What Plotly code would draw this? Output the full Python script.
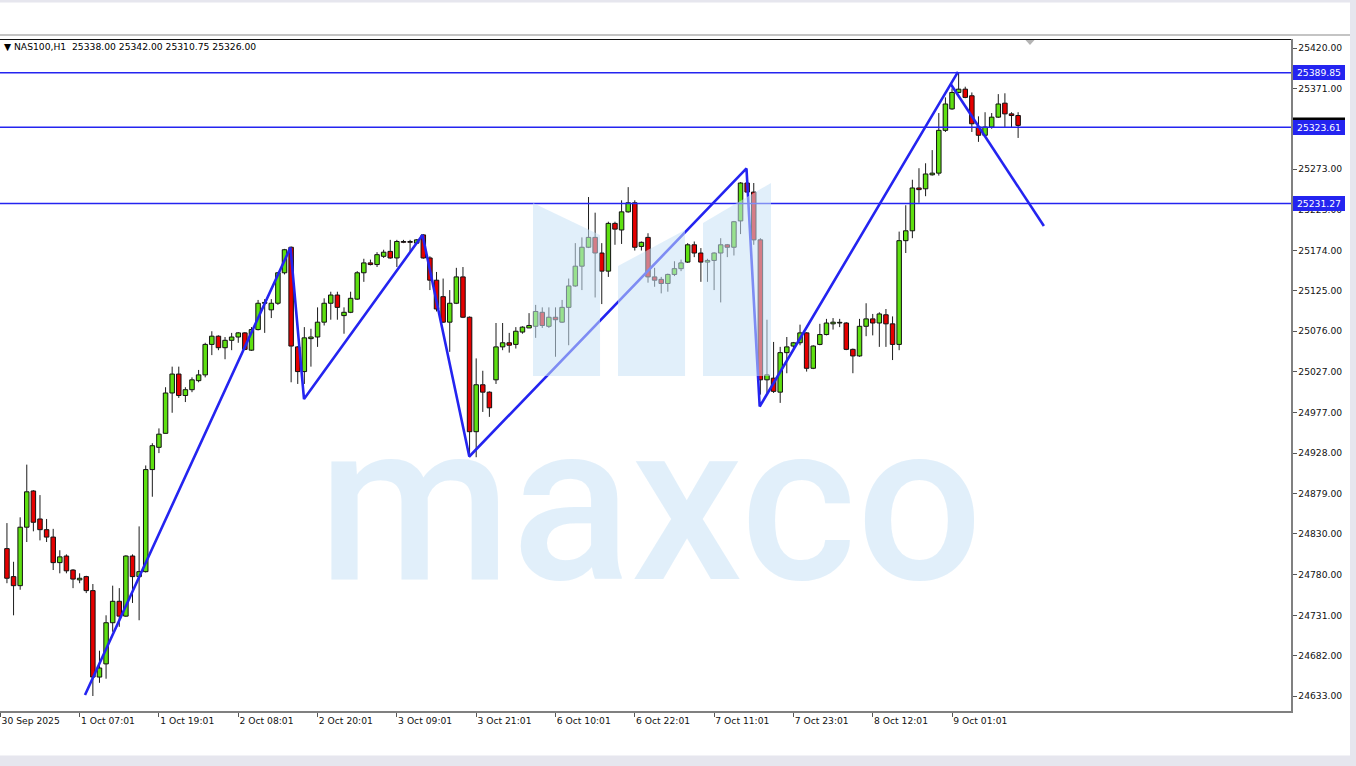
import plotly.graph_objects as go

# ---------------- data ----------------
bar_index = list(range(1, 155))

opens = [24812, 24778, 24767, 24838, 24882, 24848, 24835, 24826, 24795, 24803,
         24786, 24774, 24778, 24761, 24656, 24672, 24722, 24748, 24730, 24803,
         24778, 24784, 24908, 24935, 24952, 25001, 25024, 24998, 25005, 25016,
         25023, 25060, 25070, 25056, 25065, 25069, 25074, 25053, 25078, 25110,
         25102, 25110, 25147, 25178, 25057, 25027, 25067, 25069, 25087, 25110,
         25120, 25095, 25099, 25115, 25147, 25159, 25157, 25167, 25173, 25165,
         25185, 25185, 25183, 25193, 25165, 25138, 25118, 25087, 25110, 25142,
         25093, 24954, 25011, 25002, 25017, 25057, 25062, 25060, 25075, 25080,
         25082, 25099, 25082, 25093, 25087, 25105, 25131, 25155, 25178, 25190,
         25171, 25149, 25207, 25199, 25221, 25232, 25179, 25190, 25142, 25139,
         25134, 25145, 25152, 25160, 25181, 25171, 25160, 25162, 25171, 25181,
         25178, 25210, 25256, 25245, 25187, 25017, 25019, 25002, 25050, 25058,
         25062, 25074, 25031, 25060, 25072, 25085, 25086, 25086, 25054, 25046,
         25082, 25091, 25086, 25096, 25085, 25060, 25186, 25198, 25250, 25249,
         25266, 25268, 25320, 25346, 25366, 25370, 25362, 25324, 25314, 25324,
         25336, 25353, 25340, 25338]

highs = [24843, 24796, 24850, 24914, 24883, 24877, 24848, 24836, 24810, 24805,
         24787, 24782, 24779, 24769, 24688, 24731, 24767, 24764, 24804, 24805,
         24839, 24913, 24940, 24958, 25008, 25033, 25033, 25008, 25020, 25029,
         25062, 25076, 25071, 25069, 25074, 25075, 25075, 25081, 25114, 25115,
         25115, 25148, 25176, 25179, 25058, 25081, 25079, 25105, 25116, 25124,
         25124, 25105, 25124, 25149, 25164, 25163, 25172, 25175, 25187, 25187,
         25187, 25187, 25188, 25194, 25167, 25148, 25140, 25126, 25153, 25154,
         25094, 25043, 25028, 25003, 25086, 25086, 25074, 25081, 25082, 25098,
         25108, 25105, 25105, 25105, 25114, 25140, 25183, 25190, 25239, 25220,
         25183, 25209, 25209, 25235, 25251, 25235, 25185, 25195, 25153, 25142,
         25146, 25161, 25163, 25183, 25185, 25177, 25164, 25172, 25189, 25182,
         25210, 25257, 25257, 25256, 25189, 25090, 25063, 25057, 25069, 25063,
         25084, 25075, 25059, 25085, 25091, 25092, 25091, 25087, 25055, 25091,
         25110, 25097, 25099, 25103, 25094, 25197, 25229, 25260, 25274, 25280,
         25296, 25341, 25360, 25371, 25390, 25373, 25366, 25337, 25342, 25341,
         25364, 25365, 25342, 25342]

lows = [24770, 24731, 24762, 24820, 24833, 24822, 24820, 24786, 24782, 24782,
        24764, 24770, 24758, 24633, 24649, 24654, 24711, 24717, 24729, 24746,
        24725, 24783, 24875, 24928, 24952, 24977, 24995, 24990, 25002, 25014,
        25020, 25047, 25053, 25042, 25053, 25062, 25053, 25052, 25077, 25074,
        25092, 25108, 25145, 25014, 25012, 25012, 25033, 25057, 25083, 25090,
        25090, 25073, 25098, 25114, 25136, 25156, 25154, 25165, 25164, 25154,
        25183, 25173, 25182, 25164, 25126, 25100, 25086, 25051, 25109, 25092,
        24923, 24923, 24978, 24972, 25012, 25053, 25050, 25055, 25073, 25080,
        25068, 25080, 25080, 25045, 25086, 25059, 25130, 25126, 25177, 25117,
        25109, 25142, 25181, 25182, 25220, 25174, 25174, 25135, 25130, 25122,
        25124, 25143, 25149, 25159, 25166, 25136, 25136, 25126, 25111, 25166,
        25168, 25194, 25245, 25181, 24999, 25001, 25001, 24989, 25025, 25055,
        25059, 25027, 25030, 25059, 25071, 25078, 25081, 25053, 25025, 25045,
        25070, 25071, 25057, 25057, 25041, 25053, 25171, 25189, 25232, 25240,
        25265, 25265, 25318, 25345, 25365, 25359, 25318, 25306, 25313, 25322,
        25335, 25324, 25324, 25310.75]

closes = [24776, 24767, 24838, 24881, 24844, 24835, 24826, 24795, 24802, 24785,
          24775, 24776, 24761, 24656, 24667, 24722, 24748, 24730, 24803, 24778,
          24784, 24908, 24937, 24951, 25001, 25024, 24998, 25005, 25017, 25023,
          25060, 25070, 25056, 25065, 25069, 25074, 25054, 25078, 25110, 25111,
          25110, 25147, 25175, 25058, 25027, 25068, 25069, 25087, 25110, 25120,
          25105, 25099, 25116, 25147, 25159, 25157, 25169, 25172, 25165, 25185,
          25184, 25184, 25187, 25165, 25138, 25103, 25087, 25110, 25142, 25093,
          24954, 25011, 25002, 24983, 25057, 25062, 25059, 25076, 25081, 25083,
          25100, 25083, 25093, 25090, 25105, 25131, 25155, 25178, 25190, 25171,
          25149, 25207, 25200, 25221, 25232, 25178, 25184, 25142, 25138, 25134,
          25145, 25152, 25159, 25181, 25171, 25160, 25162, 25171, 25181, 25178,
          25209, 25256, 25245, 25187, 25017, 25023, 25003, 25050, 25057, 25062,
          25074, 25031, 25058, 25072, 25086, 25087, 25086, 25054, 25046, 25082,
          25091, 25086, 25097, 25085, 25060, 25186, 25198, 25250, 25248, 25267,
          25268, 25320, 25352, 25366, 25370, 25360, 25328, 25314, 25324, 25336,
          25352, 25340, 25338, 25326]

time_tick_index = [0, 12, 24, 36, 48, 60, 72, 84, 96, 108, 120, 132, 144]
time_tick_labels = ["30 Sep 2025", "1 Oct 07:01", "1 Oct 19:01", "2 Oct 08:01",
                    "2 Oct 20:01", "3 Oct 09:01", "3 Oct 21:01", "6 Oct 10:01",
                    "6 Oct 22:01", "7 Oct 11:01", "7 Oct 23:01", "8 Oct 12:01",
                    "9 Oct 01:01"]

# (the 25322.00 label sits fully hidden under the 25323.61 level label)
price_tick_values = [25420, 25371, 25273, 25223, 25174, 25125, 25076,
                     25027, 24977, 24928, 24879, 24830, 24780, 24731, 24682, 24633]

level_prices = [25389.85, 25323.61, 25231.27]
bid_price = 25326.00

zigzag_index = [12.81, 43.9, 45.95, 63.88, 70.96, 112.9, 114.9, 144.9]
zigzag_price = [24634.2, 25177.7, 24993.7, 25192.9, 24923.9, 25273.7, 24984.6, 25390.9]
trend_index = [143.8, 157.9]
trend_price = [25376.3, 25203.8]

symbol_label = "NAS100,H1"

# ---------------- styling ----------------
FIG_W, FIG_H = 1356, 766
M_L, M_R, M_T, M_B = 0, 65, 39, 55
PW = FIG_W - M_L - M_R
PH = FIG_H - M_T - M_B
X_RANGE = [-0.05, -0.05 + PW / 6.609]
Y_RANGE = [24614.78, 25430.93]

BULL = "#5ee010"
BEAR = "#e50000"
BLUE = "#2424f0"
FONT = "DejaVu Sans"


def px(x):
    return (x - M_L) / PW


def py(y):
    return (FIG_H - M_B - y) / PH


fig = go.Figure()

# candle bodies
for is_bull, colr in ((True, BULL), (False, BEAR)):
    xs, bases, lens = [], [], []
    for i, o, c in zip(bar_index, opens, closes):
        if (c >= o) == is_bull:
            xs.append(i)
            bases.append(min(o, c))
            lens.append(max(abs(c - o), 0.8))
    fig.add_trace(go.Bar(x=xs, y=lens, base=bases, width=0.68,
                         marker=dict(color=colr, line=dict(color="#101010", width=1)),
                         hoverinfo="skip", showlegend=False))

# wicks (drawn outside the bodies)
wx, wy = [], []
for i, o, h, l, c in zip(bar_index, opens, highs, lows, closes):
    top, bot = max(o, c), min(o, c)
    if h > top:
        wx += [i, i, None]
        wy += [h, top, None]
    if l < bot:
        wx += [i, i, None]
        wy += [bot, l, None]
fig.add_trace(go.Scatter(x=wx, y=wy, mode="lines",
                         line=dict(color="#1c1c1c", width=1),
                         hoverinfo="skip", showlegend=False))

# horizontal levels
for lv in level_prices:
    fig.add_trace(go.Scatter(x=X_RANGE, y=[lv, lv], mode="lines",
                             line=dict(color=BLUE, width=1.5),
                             hoverinfo="skip", showlegend=False))

# zigzag & trend line
fig.add_trace(go.Scatter(x=zigzag_index, y=zigzag_price, mode="lines",
                         line=dict(color=BLUE, width=2.6),
                         hoverinfo="skip", showlegend=False))
fig.add_trace(go.Scatter(x=trend_index, y=trend_price, mode="lines",
                         line=dict(color=BLUE, width=2.6),
                         hoverinfo="skip", showlegend=False))

shapes = []
GREY = "#e6e6ee"
# page frame
shapes.append(dict(type="rect", xref="paper", yref="paper", layer="above",
                   x0=px(1350), x1=px(1360), y0=py(770), y1=py(-5),
                   fillcolor=GREY, line=dict(width=0)))
shapes.append(dict(type="rect", xref="paper", yref="paper", layer="above",
                   x0=px(-5), x1=px(1360), y0=py(770), y1=py(755.5),
                   fillcolor=GREY, line=dict(width=0)))
shapes.append(dict(type="rect", xref="paper", yref="paper", layer="above",
                   x0=px(-5), x1=px(1360), y0=py(2.5), y1=py(-5),
                   fillcolor=GREY, line=dict(width=0)))
# toolbar separator and chart top border
shapes.append(dict(type="line", xref="paper", yref="paper", layer="above",
                   x0=px(0), x1=px(1350), y0=py(35), y1=py(35),
                   line=dict(color="#c4c4c4", width=2)))
shapes.append(dict(type="line", xref="paper", yref="paper", layer="above",
                   x0=px(0), x1=px(1291), y0=py(39.5), y1=py(39.5),
                   line=dict(color="#111111", width=1.2)))
# chart shift marker
shapes.append(dict(type="path", xref="paper", yref="paper", layer="above",
                   path="M {:.5f} {:.5f} L {:.5f} {:.5f} L {:.5f} {:.5f} Z".format(
                       px(1025.5), py(40), px(1034.5), py(40), px(1030), py(45)),
                   fillcolor="#b4b4b4", line=dict(width=0)))
# bid price marker on the price axis (mostly covered by the level label)
shapes.append(dict(type="rect", xref="paper", yref="y", layer="above",
                   x0=px(1293), x1=px(1345), y0=bid_price - 5.5, y1=bid_price + 9.5,
                   fillcolor="#000000", line=dict(width=0)))

# watermark "M" logo (overlaying the chart)
WM = "rgba(200,225,246,0.55)"
for poly in ([(533, 203), (600, 235), (600, 376), (533, 376)],
             [(618, 266), (685, 230), (685, 376), (618, 376)],
             [(703, 223), (771, 183), (771, 376), (703, 376)]):
    path = "M " + " L ".join("{:.5f} {:.5f}".format(px(a), py(b)) for a, b in poly) + " Z"
    shapes.append(dict(type="path", xref="paper", yref="paper", layer="above",
                       path=path, fillcolor=WM, line=dict(width=0)))

annotations = []
annotations.append(dict(text="maxco", xref="paper", yref="paper",
                        x=px(650), y=py(503), xanchor="center", yanchor="middle",
                        showarrow=False,
                        font=dict(family="Roboto", size=222, color=WM, weight=500)))
annotations.append(dict(text="\u25BC " + symbol_label + "\u00a0\u00a0" + " ".join(
    "{:.2f}".format(v) for v in (opens[-1], highs[-1], lows[-1], closes[-1])),
    xref="paper", yref="paper", x=px(2), y=py(47), xanchor="left", yanchor="middle",
    showarrow=False, font=dict(family=FONT, size=9.2, color="#000000")))
for lv in level_prices:
    annotations.append(dict(text="{:.2f}".format(lv), xref="paper", yref="y",
                            x=1, xshift=2, y=lv, xanchor="left", yanchor="middle",
                            showarrow=False, bgcolor=BLUE, borderpad=1,
                            bordercolor=BLUE, borderwidth=1, width=48, align="center",
                            font=dict(family=FONT, size=9.2, color="#ffffff")))

fig.update_layout(
    width=FIG_W, height=FIG_H,
    margin=dict(l=M_L, r=M_R, t=M_T, b=M_B, pad=0),
    paper_bgcolor="#ffffff", plot_bgcolor="#ffffff",
    barmode="overlay", showlegend=False,
    shapes=shapes, annotations=annotations,
    xaxis=dict(range=X_RANGE, showgrid=False, zeroline=False,
               tickmode="array", tickvals=time_tick_index, ticktext=time_tick_labels,
               ticks="outside", ticklen=4, tickcolor="#555555", tickwidth=1,
               ticklabelposition="outside right",
               showline=True, linecolor="#808080", linewidth=1.5,
               tickfont=dict(family=FONT, size=9.2, color="#111111"),
               fixedrange=True),
    yaxis=dict(range=Y_RANGE, side="right", showgrid=False, zeroline=False,
               tickmode="array", tickvals=price_tick_values,
               ticktext=["{:.2f}".format(v) for v in price_tick_values],
               ticks="outside", ticklen=4, tickcolor="#555555", tickwidth=1,
               showline=True, linecolor="#808080", linewidth=1.5,
               tickfont=dict(family=FONT, size=9.2, color="#111111"),
               fixedrange=True),
)

fig.write_html("out.html",
               config={"displayModeBar": False, "staticPlot": True},
               post_script="document.body.style.margin='0';"
                           "document.body.style.overflow='hidden';")
